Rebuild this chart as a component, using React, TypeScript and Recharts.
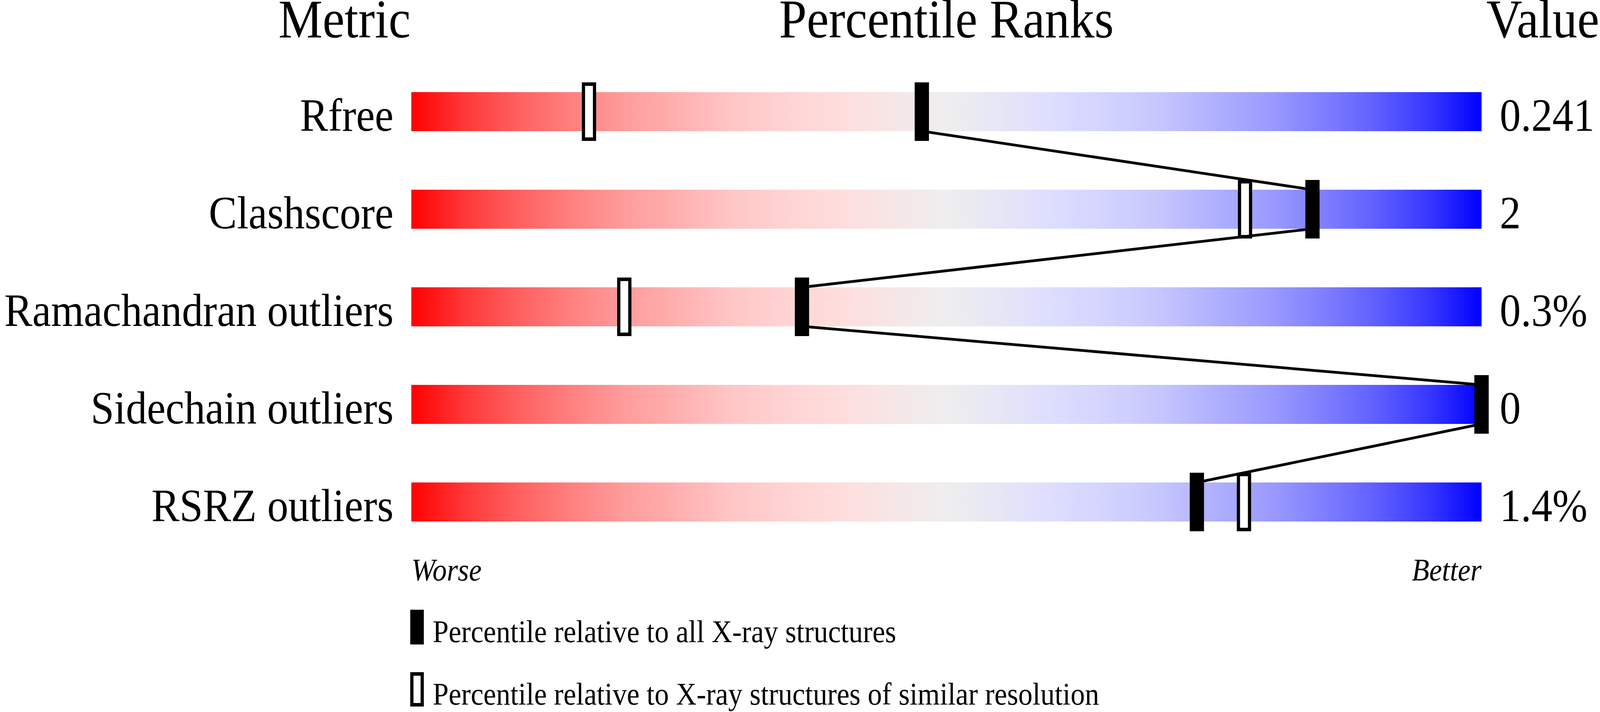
import React from 'react';
import { ScatterChart, Scatter, XAxis, YAxis, ReferenceArea, Customized } from 'recharts';

const metrics = ['Rfree', 'Clashscore', 'Ramachandran outliers', 'Sidechain outliers', 'RSRZ outliers'];
const valueLabels = ['0.241', '2', '0.3%', '0', '1.4%'];
const pctAll = [47.7, 84.2, 36.5, 100, 73.4];
const pctSimilar = [16.6, 77.9, 19.9, 100, 77.8];
const endLabels = ['Worse', 'Better'];
const legendLabels = [
    'Percentile relative to all X-ray structures',
    'Percentile relative to X-ray structures of similar resolution',
];

// red -> light grey -> blue
const gradStops = [
    '#FF0000', '#FF3838', '#FF6060', '#FF8080', '#FF9C9C', '#FFB0B0', '#FFC6C6', '#FFD3D3', '#FFDDDD', '#F6E6E6',
    '#EEEEEE',
    '#E6E6F6', '#DDDDFF', '#D3D3FF', '#C6C6FF', '#B0B0FF', '#9C9CFF', '#8080FF', '#6060FF', '#3838FF', '#0000FF',
];

const W = 4485;
const H = 1824;
const SERIF = "'Liberation Serif', 'Times New Roman', serif";
const HALF = 0.2; // half bar thickness, in row units

const rows = metrics.map((_, i) => i);
const allPoints = pctAll.map((x, i) => ({ x, y: i }));
const similarPoints = pctSimilar.map((x, i) => ({ x, y: i }));
const linkPoints = pctAll.flatMap((x, i) => [
    { x, y: i - HALF },
    { x, y: i + HALF },
]);

function MetricTick({ x, y, payload }: any) {
    return (
        <text x={x} y={y + 49} textAnchor="end" fontSize={118} fontFamily={SERIF} fill="#000">
            {metrics[payload.value]}
        </text>
    );
}

function ValueTick({ x, y, payload }: any) {
    return (
        <text x={x} y={y + 49} textAnchor="start" fontSize={118} fontFamily={SERIF} fill="#000">
            {valueLabels[payload.value]}
        </text>
    );
}

function EndTick({ x, y, payload }: any) {
    const first = payload.value === 0;
    return (
        <text x={x} y={y + 76} textAnchor={first ? 'start' : 'end'} fontSize={80} fontStyle="italic" fontFamily={SERIF} fill="#000">
            {first ? endLabels[0] : endLabels[1]}
        </text>
    );
}

const FilledMarker = ({ cx, cy }: any) => <rect x={cx - 20} y={cy - 75} width={40} height={150} fill="#000" />;
const HollowMarker = ({ cx, cy }: any) => (
    <rect x={cx - 15.5} y={cy - 70.5} width={31} height={141} fill="#fff" stroke="#000" strokeWidth={9} />
);
const NoDot = () => <g />;

function Decorations() {
    return (
        <g fontFamily={SERIF} fill="#000">
            <defs>
                <linearGradient id="pctGrad" x1="0" y1="0" x2="1" y2="0">
                    {gradStops.map((c, i) => (
                        <stop key={i} offset={i / (gradStops.length - 1)} stopColor={c} />
                    ))}
                </linearGradient>
            </defs>
            <text x={1151} y={96} textAnchor="end" fontSize={139}>Metric</text>
            <text x={2653} y={96} textAnchor="middle" fontSize={139}>Percentile Ranks</text>
            <text x={4483} y={96} textAnchor="end" fontSize={139}>Value</text>

            <rect x={1150} y={1562} width={38} height={89} fill="#000" />
            <text x={1213} y={1645} fontSize={80}>{legendLabels[0]}</text>
            <rect x={1154.5} y={1726.5} width={29} height={79} fill="#fff" stroke="#000" strokeWidth={9} />
            <text x={1213} y={1805} fontSize={80}>{legendLabels[1]}</text>
        </g>
    );
}

export default function App() {
    // the browser may hand us a narrower viewport than asked for; squeeze to fit
    const sx = typeof window !== 'undefined' ? Math.min(1, window.innerWidth / W) : 1;
    const sy = typeof window !== 'undefined' ? Math.min(1, window.innerHeight / H) : 1;

    return (
        <div
            style={{
                position: 'absolute',
                left: 0,
                top: 0,
                width: W,
                height: H,
                background: '#fff',
                transform: `scale(${sx}, ${sy})`,
                transformOrigin: '0 0',
            }}
        >
            <ScatterChart width={W} height={H} margin={{ top: 161, right: 0, bottom: 313, left: 0 }}>
                <Customized component={Decorations} />
                <XAxis
                    type="number"
                    dataKey="x"
                    domain={[0, 100]}
                    ticks={[0, 100]}
                    interval={0}
                    height={100}
                    axisLine={false}
                    tickLine={false}
                    tickSize={0}
                    tickMargin={0}
                    tick={<EndTick />}
                />
                <YAxis
                    type="number"
                    dataKey="y"
                    domain={[-0.5, 4.5]}
                    ticks={rows}
                    interval={0}
                    reversed
                    width={1153}
                    axisLine={false}
                    tickLine={false}
                    tickSize={0}
                    tickMargin={50}
                    tick={<MetricTick />}
                />
                <YAxis
                    yAxisId="val"
                    orientation="right"
                    type="number"
                    dataKey="y"
                    domain={[-0.5, 4.5]}
                    ticks={rows}
                    interval={0}
                    reversed
                    width={332}
                    axisLine={false}
                    tickLine={false}
                    tickSize={0}
                    tickMargin={51}
                    tick={<ValueTick />}
                />
                {rows.map((i) => (
                    <ReferenceArea
                        key={i}
                        x1={0}
                        x2={100}
                        y1={i - HALF}
                        y2={i + HALF}
                        fill="url(#pctGrad)"
                        fillOpacity={1}
                        stroke="none"
                    />
                ))}
                <Scatter data={similarPoints} shape={<HollowMarker />} isAnimationActive={false} />
                <Scatter
                    data={linkPoints}
                    shape={<NoDot />}
                    line={{ stroke: '#000', strokeWidth: 7 }}
                    lineType="joint"
                    isAnimationActive={false}
                />
                <Scatter data={allPoints} yAxisId="val" shape={<FilledMarker />} isAnimationActive={false} />
            </ScatterChart>
        </div>
    );
}
